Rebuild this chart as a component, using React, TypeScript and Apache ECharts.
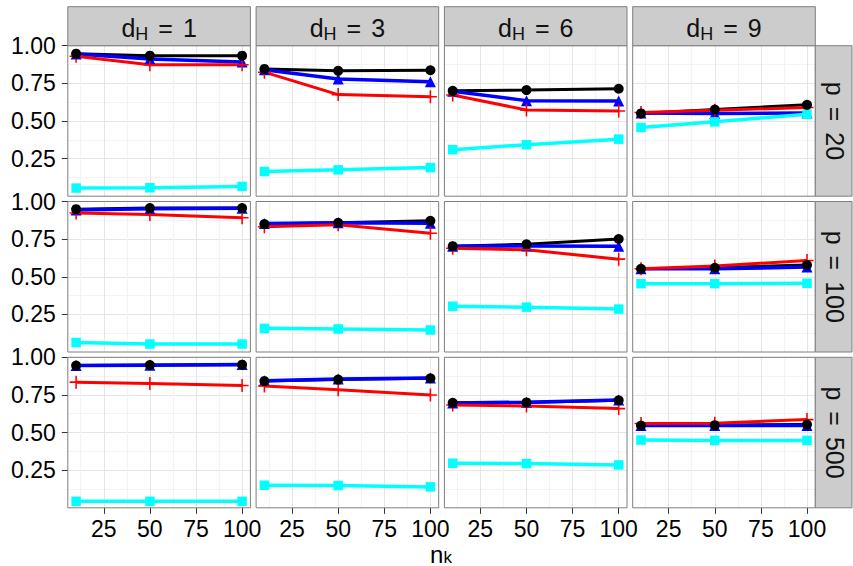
import React, { useEffect, useRef } from 'react';
import * as echarts from 'echarts';

// ---- data ----
const nk = [10, 50, 100];
const dHLevels = [1, 3, 6, 9];
const pLevels = [20, 100, 500];
const xTicks = [25, 50, 75, 100];
const xMinorTicks = [12.5, 37.5, 62.5, 87.5];
const yTicks = [0.25, 0.5, 0.75, 1.0];

// values[pRow][dHCol][nkIndex]
const blackVals = [
  [[0.947, 0.934, 0.934], [0.846, 0.833, 0.837], [0.700, 0.705, 0.714], [0.550, 0.576, 0.607]],
  [[0.949, 0.956, 0.956], [0.850, 0.859, 0.872], [0.703, 0.716, 0.751], [0.553, 0.560, 0.578]],
  [[0.945, 0.949, 0.951], [0.842, 0.852, 0.861], [0.698, 0.700, 0.714], [0.547, 0.549, 0.553]],
];
const blueVals = [
  [[0.945, 0.912, 0.892], [0.840, 0.778, 0.760], [0.698, 0.635, 0.632], [0.553, 0.549, 0.553]],
  [[0.943, 0.952, 0.955], [0.853, 0.858, 0.855], [0.703, 0.705, 0.703], [0.553, 0.553, 0.564]],
  [[0.945, 0.948, 0.952], [0.845, 0.855, 0.862], [0.696, 0.702, 0.716], [0.547, 0.547, 0.547]],
];
const redVals = [
  [[0.930, 0.873, 0.873], [0.824, 0.675, 0.661], [0.672, 0.573, 0.566], [0.556, 0.571, 0.589]],
  [[0.923, 0.914, 0.892], [0.832, 0.845, 0.789], [0.690, 0.679, 0.617], [0.553, 0.571, 0.608]],
  [[0.835, 0.826, 0.813], [0.809, 0.784, 0.749], [0.683, 0.677, 0.659], [0.560, 0.562, 0.586]],
];
const cyanVals = [
  [[0.054, 0.056, 0.065], [0.164, 0.175, 0.190], [0.309, 0.342, 0.379], [0.457, 0.494, 0.545]],
  [[0.063, 0.053, 0.053], [0.157, 0.153, 0.146], [0.304, 0.298, 0.285], [0.454, 0.454, 0.457]],
  [[0.043, 0.043, 0.043], [0.150, 0.148, 0.139], [0.296, 0.294, 0.285], [0.450, 0.448, 0.448]],
];

// ---- layout ----
const W = 853;
const H = 566;
const colLeft = [67.8, 256.1, 444.4, 632.7];
const panelW = 182.6;
const rowTop = [45.7, 201.5, 357.3];
const panelH = 150.5;
const stripTop = 6.7;
const rightStripRight = 852;
const FONT = "'Liberation Sans', Arial, Helvetica, sans-serif";
const crossPath = 'path://M4.4,0H5.6V4.4H10V5.6H5.6V10H4.4V5.6H0V4.4H4.4Z';

export default function App() {
  const ref = useRef<HTMLDivElement>(null);

  useEffect(() => {
    const chart = echarts.init(ref.current!, null, { renderer: 'svg' });

    const methods = [
      { key: 'black', color: '#000000', vals: blackVals, symbol: 'circle', size: 10, lw: 3 },
      { key: 'blue', color: '#0000FF', vals: blueVals, symbol: 'triangle', size: 11, lw: 3.5 },
      { key: 'red', color: '#FF0000', vals: redVals, symbol: crossPath, size: 13, lw: 3 },
      { key: 'cyan', color: '#00FFFF', vals: cyanVals, symbol: 'rect', size: 9.5, lw: 3.5 },
    ];
    const pointOrder = [1, 2, 3, 0];

    const grid: any[] = [];
    const xAxis: any[] = [];
    const yAxis: any[] = [];
    const series: any[] = [];
    const graphic: any[] = [];

    const stripRich = {
      m: { fontSize: 25, lineHeight: 30, fontFamily: FONT, fill: '#111111' },
      e: { fontSize: 25, lineHeight: 30, fontFamily: FONT, fill: '#111111', padding: [0, 10, 0, 10] },
      s: { fontSize: 18, lineHeight: 16, verticalAlign: 'bottom', fontFamily: FONT, fill: '#111111' },
    };

    for (let r = 0; r < pLevels.length; r++) {
      for (let c = 0; c < dHLevels.length; c++) {
        const idx = r * dHLevels.length + c;
        grid.push({
          left: colLeft[c],
          top: rowTop[r],
          width: panelW,
          height: panelH,
          containLabel: false,
          outerBoundsMode: 'none',
        });
        xAxis.push({
          type: 'value',
          gridIndex: idx,
          min: 5.5,
          max: 104.5,
          axisLine: { show: false },
          splitLine: { show: false },
          axisTick: {
            show: r === pLevels.length - 1,
            customValues: xTicks,
            length: 6,
            lineStyle: { color: '#333333', width: 1 },
          },
          axisLabel: {
            show: r === pLevels.length - 1,
            customValues: xTicks,
            fontSize: 23,
            lineHeight: 22,
            fontFamily: FONT,
            color: '#000000',
            margin: 10,
          },
        });
        yAxis.push({
          type: 'value',
          gridIndex: idx,
          min: 0,
          max: 1,
          interval: 0.25,
          axisLine: { show: false },
          axisTick: {
            show: c === 0,
            customValues: yTicks,
            length: 6,
            lineStyle: { color: '#333333', width: 1 },
          },
          axisLabel: {
            show: c === 0,
            customValues: yTicks,
            fontSize: 23,
            fontFamily: FONT,
            color: '#000000',
            margin: 12,
            formatter: (v: number) => v.toFixed(2),
          },
          splitLine: { show: true, lineStyle: { color: '#e5e5e5', width: 1 } },
          minorTick: { show: false, splitNumber: 2 },
          minorSplitLine: { show: true, lineStyle: { color: '#f3f3f3', width: 1.2 } },
        });

        // vertical grid lines through the x scale
        series.push({
          type: 'line',
          xAxisIndex: idx,
          yAxisIndex: idx,
          data: [],
          silent: true,
          z: 1,
          markLine: {
            silent: true,
            symbol: 'none',
            label: { show: false },
            emphasis: { disabled: true },
            lineStyle: { type: 'solid' },
            data: [
              ...xMinorTicks.map((v) => ({ xAxis: v, lineStyle: { color: '#f3f3f3', width: 1.2, type: 'solid' } })),
              ...xTicks.map((v) => ({ xAxis: v, lineStyle: { color: '#e5e5e5', width: 1, type: 'solid' } })),
            ],
          },
        });

        methods.forEach((m, mi) => {
          series.push({
            type: 'line',
            name: m.key,
            xAxisIndex: idx,
            yAxisIndex: idx,
            data: nk.map((x, i) => [x, m.vals[r][c][i]]),
            showSymbol: false,
            symbol: 'none',
            silent: true,
            lineStyle: { color: m.color, width: m.lw },
            z: 10 + mi,
          });
        });
        pointOrder.forEach((mi, k) => {
          const m = methods[mi];
          series.push({
            type: 'scatter',
            name: m.key,
            xAxisIndex: idx,
            yAxisIndex: idx,
            data: nk.map((x, i) => [x, m.vals[r][c][i]]),
            symbol: m.symbol,
            symbolSize: m.size,
            silent: true,
            itemStyle: { color: m.color, opacity: 1 },
            z: 20 + k,
          });
        });

        graphic.push({
          type: 'rect',
          silent: true,
          z: 50,
          shape: { x: colLeft[c], y: rowTop[r], width: panelW, height: panelH },
          style: { fill: 'none', stroke: '#7f7f7f', lineWidth: 1 },
        });
      }
    }

    // top strips
    dHLevels.forEach((d, c) => {
      graphic.push({
        type: 'rect',
        silent: true,
        z: 50,
        shape: { x: colLeft[c], y: stripTop, width: panelW, height: rowTop[0] - stripTop },
        style: { fill: '#cccccc', stroke: '#7f7f7f', lineWidth: 1 },
      });
      graphic.push({
        type: 'text',
        silent: true,
        z: 51,
        x: colLeft[c] + panelW / 2,
        y: 27.5,
        style: {
          text: `{m|d}{s|H}{e|=}{m|${d}}`,
          rich: stripRich,
          align: 'center',
          verticalAlign: 'middle',
        },
      });
    });

    // right strips
    const rsLeft = colLeft[3] + panelW;
    pLevels.forEach((p, r) => {
      graphic.push({
        type: 'rect',
        silent: true,
        z: 50,
        shape: { x: rsLeft, y: rowTop[r], width: rightStripRight - rsLeft, height: panelH },
        style: { fill: '#cccccc', stroke: '#7f7f7f', lineWidth: 1 },
      });
      graphic.push({
        type: 'text',
        silent: true,
        z: 51,
        x: (rsLeft + rightStripRight) / 2 + 1,
        y: rowTop[r] + panelH / 2,
        rotation: -Math.PI / 2,
        style: {
          text: `{m|p}{e|=}{m|${p}}`,
          rich: {
            m: { fontSize: 25, lineHeight: 30, fontFamily: FONT, fill: '#111111' },
            e: { fontSize: 25, lineHeight: 30, fontFamily: FONT, fill: '#111111', padding: [0, 11, 0, 11] },
          },
          align: 'center',
          verticalAlign: 'middle',
        },
      });
    });

    // x-axis title: n with subscript k
    graphic.push({
      type: 'text',
      silent: true,
      z: 51,
      x: 430,
      y: 554,
      style: {
        text: 'n',
        fontSize: 24,
        fontFamily: FONT,
        fill: '#000000',
        align: 'left',
        verticalAlign: 'middle',
      },
    });
    graphic.push({
      type: 'text',
      silent: true,
      z: 51,
      x: 443.5,
      y: 557.5,
      style: {
        text: 'k',
        fontSize: 17,
        fontFamily: FONT,
        fill: '#000000',
        align: 'left',
        verticalAlign: 'middle',
      },
    });

    chart.setOption({
      animation: false,
      backgroundColor: '#ffffff',
      grid,
      xAxis,
      yAxis,
      series,
      graphic,
    });

    return () => {
      chart.dispose();
    };
  }, []);

  return (
    <div
      ref={ref}
      style={{ position: 'absolute', left: 0, top: 0, width: W, height: H }}
    />
  );
}
